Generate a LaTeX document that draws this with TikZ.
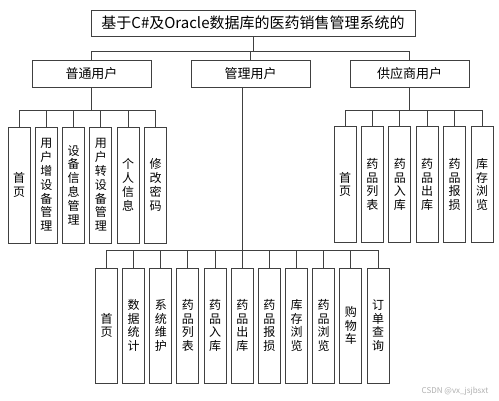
\documentclass[tikz,border=0pt]{standalone}
\usepackage{fontspec}
\setmainfont{Noto Sans CJK SC}
\definecolor{linegray}{HTML}{404040}
\definecolor{markgray}{HTML}{B0B0B0}

\begin{document}
\begin{tikzpicture}[x=1pt, y=-1pt,
    box/.style={draw=linegray, line width=1pt, fill=white, inner sep=0pt},
    titlebox/.style={box, minimum width=324pt, minimum height=26pt, font=\fontsize{15}{18}\selectfont},
    rolebox/.style={box, minimum width=119pt, minimum height=27pt, font=\fontsize{13}{16}\selectfont},
    leafbox/.style={box, minimum width=22pt, minimum height=116pt, align=center, font=\fontsize{12}{13.8}\selectfont},
    link/.style={draw=linegray, line width=1pt}]
    \fill[white] (0,0) rectangle (499,400);
    \useasboundingbox (0,0) rectangle (499,400);

    % Title and user roles
    \node[titlebox] (title) at (253,23) {基于C\#及Oracle数据库的医药销售管理系统的};
    \node[rolebox] (common) at (91.5,73.5) {普通用户};
    \node[rolebox] (admin) at (250.5,73.5) {管理用户};
    \node[rolebox] (supplier) at (409.5,73.5) {供应商用户};

    % Common user functions
    \foreach \t [count=\i from 0] in {{首\\页},{用\\户\\增\\设\\备\\管\\理},{设\\备\\信\\息\\管\\理},{用\\户\\转\\设\\备\\管\\理},{个\\人\\信\\息},{修\\改\\密\\码}}
        \node[leafbox] (c\i) at (19+27.3*\i,185) {\t};

    % Supplier functions
    \foreach \t [count=\i from 0] in {{首\\页},{药\\品\\列\\表},{药\\品\\入\\库},{药\\品\\出\\库},{药\\品\\报\\损},{库\\存\\浏\\览}}
        \node[leafbox] (s\i) at (345+27.4*\i,184.5) {\t};

    % Admin functions
    \foreach \t [count=\i from 0] in {{首\\页},{数\\据\\统\\计},{系\\统\\维\\护},{药\\品\\列\\表},{药\\品\\入\\库},{药\\品\\出\\库},{药\\品\\报\\损},{库\\存\\浏\\览},{药\\品\\浏\\览},{购\\物\\车},{订\\单\\查\\询}}
        \node[leafbox, minimum height=115pt] (m\i) at (106.5+27.15*\i,325.5) {\t};

    % Connectors
    \draw[link] (title.south) -- ++(0,15) coordinate (tbus);
    \draw[link] (common.north) |- (tbus) -| (supplier.north);
    \draw[link] (admin.north) -- (admin.north |- tbus);

    \draw[link] (common.south) -- ++(0,23) coordinate (cbus);
    \draw[link] (c0.north) |- (cbus) -| (c5.north);
    \foreach \i in {1,...,4}
        \draw[link] (c\i.north) -- (c\i.north |- cbus);

    \draw[link] (supplier.south) -- ++(0,23) coordinate (sbus);
    \draw[link] (s0.north) |- (sbus) -| (s5.north);
    \foreach \i in {1,...,4}
        \draw[link] (s\i.north) -- (s\i.north |- sbus);

    \draw[link] (admin.south -| m5.north) -- ++(0,163) coordinate (mbus);
    \draw[link] (m0.north) |- (mbus) -| (m10.north);
    \foreach \i in {1,...,9}
        \draw[link] (m\i.north) -- (m\i.north |- mbus);

    % Watermark
    \node[font=\fontsize{8}{9}\selectfont, text=markgray] (mark) at (455,391) {CSDN @vx\_jsjbsxt};
\end{tikzpicture}
\end{document}
